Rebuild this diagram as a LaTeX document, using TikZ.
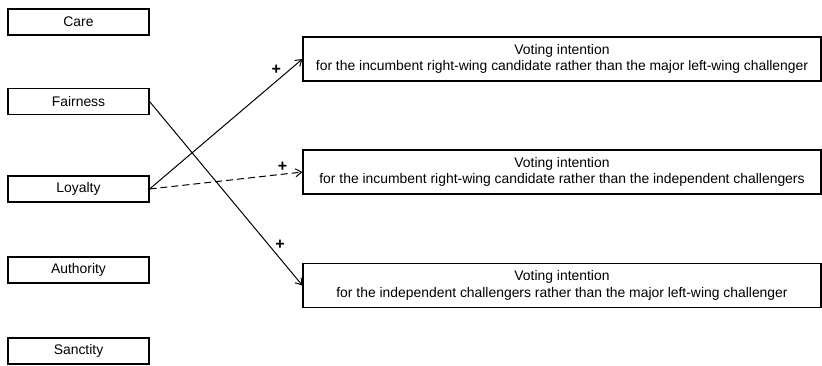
\documentclass[tikz,border=0pt]{standalone}
\usepackage{fontspec}
\setmainfont{Liberation Sans}
\usetikzlibrary{arrows.meta, positioning}

\begin{document}
\begin{tikzpicture}[x=1pt, y=-1pt,
  found/.style={rectangle, draw, line width=1.1pt, minimum height=26pt,
    minimum width=141pt, inner sep=0pt, align=center, font=\fontsize{13.9}{16.5}\selectfont},
  vote/.style={rectangle, draw, line width=1.1pt, minimum height=44pt,
    minimum width=518pt, inner sep=0pt, align=center, font=\fontsize{13.9}{16.5}\selectfont},
  effect/.style={-{Straight Barb[length=6pt, width=8pt]}, line width=1pt},
  weak/.style={effect, dash pattern=on 7pt off 4pt},
  sign/.style={font=\fontsize{16}{16}\selectfont\bfseries, inner sep=1pt},
  node distance=54pt
]
\useasboundingbox (0,0) rectangle (822,365);

% Moral foundations
\node[found] (care) at (78.5,22) {Care};
\node[found] (fair) at (78.5,101.5) {Fairness};
\node[found] (loy) at (78.5,189) {Loyalty};
\node[found] (auth) at (78.5,270) {Authority};
\node[found] (sanc) at (78.5,351) {Sanctity};

% Voting intentions
\node[vote] (v1) at (562,59) {Voting intention\\for the incumbent right-wing candidate rather than the major left-wing challenger};
\node[vote] (v2) at (562,172) {Voting intention\\for the incumbent right-wing candidate rather than the independent challengers};
\node[vote] (v3) at (562,285.5) {Voting intention\\for the independent challengers rather than the major left-wing challenger};

% Effects
\draw[effect] (loy.east) -- node[sign, pos=0.87, above left]{+} (v1.west);
\draw[weak] (loy.east) -- node[sign, pos=0.87, above=1pt]{+} (v2.west);
\draw[effect] (fair.east) -- node[sign, pos=0.78, right=5pt]{+} (v3.west);
\end{tikzpicture}
\end{document}
